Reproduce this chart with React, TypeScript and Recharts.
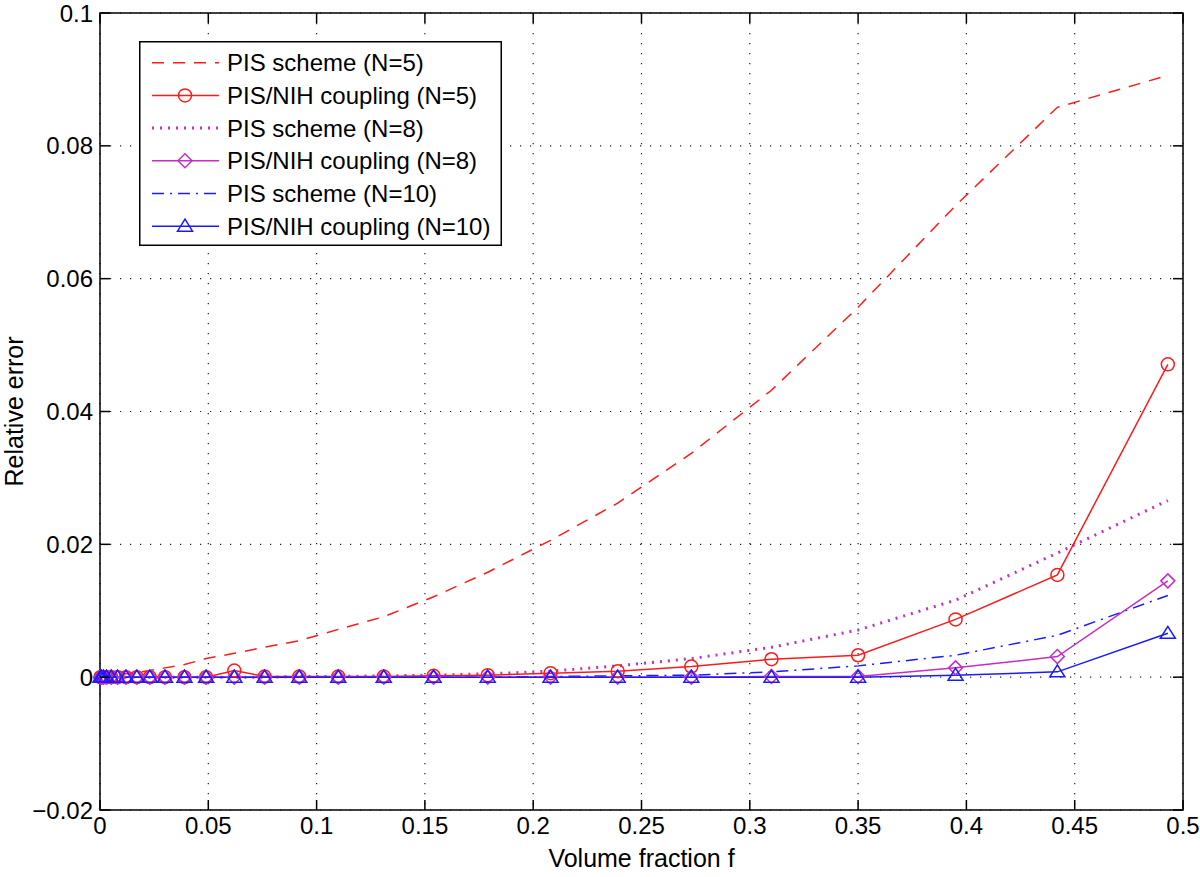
import { LineChart, Line, XAxis, YAxis, CartesianGrid, Legend, ReferenceArea } from 'recharts';

const FONT = '"Liberation Sans", Arial, Helvetica, sans-serif';
const RED = '#ff1a1a';
const MAGENTA = '#c42ec4';
const BLUE = '#1a1aff';

// volume fraction f (x positions of the computed points)
const fraction = [
  0.0002, 0.0007, 0.0016, 0.003, 0.0052, 0.0081, 0.012, 0.017, 0.023, 0.03, 0.039, 0.049, 0.062, 0.076,
  0.092, 0.11, 0.131, 0.154, 0.179, 0.208, 0.239, 0.273, 0.31, 0.35, 0.395, 0.442, 0.493,
];

const pisN5 = [
  0, 0, 0, 0.0001, 0.0002, 0.0003, 0.0005, 0.0007, 0.001, 0.0014, 0.0019, 0.0028, 0.0036, 0.0045,
  0.0055, 0.0072, 0.0091, 0.0121, 0.0158, 0.0206, 0.0262, 0.0337, 0.0432, 0.0557, 0.071, 0.0858, 0.0906,
];
const nihN5 = [
  0, 0, 0, 0, 0, 0, 0, 0, 0, 0, 0, 0, 0.001, 0.0001,
  0.0001, 0.0001, 0.0001, 0.0002, 0.0003, 0.0006, 0.0009, 0.0016, 0.0027, 0.0033, 0.0087, 0.0154, 0.0471,
];
const pisN8 = [
  0, 0, 0, 0, 0, 0, 0, 0, 0, 0, 0, 0, 0, 0,
  0.0001, 0.0001, 0.0002, 0.0003, 0.0005, 0.0009, 0.0017, 0.0028, 0.0045, 0.0071, 0.0116, 0.0187, 0.0266,
];
const nihN8 = [
  0, 0, 0, 0, 0, 0, 0, 0, 0, 0, 0, 0, 0, 0,
  0, 0, 0, 0, 0, 0, 0, 0, 0.0001, 0.0001, 0.0014, 0.0031, 0.0145,
];
const pisN10 = [
  0, 0, 0, 0, 0, 0, 0, 0, 0, 0, 0, 0, 0, 0,
  0, 0, 0, 0, 0, 0.0001, 0.0002, 0.0003, 0.0008, 0.0017, 0.0033, 0.0063, 0.0123,
];
const nihN10 = [
  0, 0, 0, 0, 0, 0, 0, 0, 0, 0, 0, 0, 0, 0,
  0, 0, 0, 0, 0, 0, 0, 0, 0, 0, 0.0003, 0.0008, 0.0066,
];

const xTicks = [0, 0.05, 0.1, 0.15, 0.2, 0.25, 0.3, 0.35, 0.4, 0.45, 0.5];
const yTicks = [-0.02, 0, 0.02, 0.04, 0.06, 0.08, 0.1];

const data = fraction.map((f, i) => ({
  f,
  pis5: pisN5[i],
  nih5: nihN5[i],
  pis8: pisN8[i],
  nih8: nihN8[i],
  pis10: pisN10[i],
  nih10: nihN10[i],
}));

// plot box (matches chart margins + axis sizes below)
const W = 1200;
const H = 877;
const TOP = 13;
const RIGHT_M = 17;
const Y_W = 100;
const X_H = 67;
const BOX_L = Y_W;
const BOX_R = W - RIGHT_M;
const BOX_T = TOP;
const BOX_B = H - X_H;
const TICK = 10;
const GAP = 7;

type Shape = 'circle' | 'diamond' | 'triangle';

function Marker({ cx, cy, color, shape }: { cx: number; cy: number; color: string; shape: Shape }) {
  if (cx == null || cy == null) return null;
  if (shape === 'circle') {
    return <circle cx={cx} cy={cy} r={6.5} fill="none" stroke={color} strokeWidth={1.5} />;
  }
  if (shape === 'diamond') {
    const d = 7;
    return (
      <polygon
        points={`${cx},${cy - d} ${cx + d},${cy} ${cx},${cy + d} ${cx - d},${cy}`}
        fill="none"
        stroke={color}
        strokeWidth={1.5}
      />
    );
  }
  return (
    <polygon
      points={`${cx},${cy - 7} ${cx + 7.5},${cy + 5} ${cx - 7.5},${cy + 5}`}
      fill="none"
      stroke={color}
      strokeWidth={1.5}
    />
  );
}

const dotOf = (color: string, shape: Shape) => (p: any) =>
  <Marker key={`m-${p.index}`} cx={p.cx} cy={p.cy} color={color} shape={shape} />;

const legendRows = [
  { label: 'PIS scheme (N=5)', color: RED, dash: '12 9', width: 1.5, shape: null },
  { label: 'PIS/NIH coupling (N=5)', color: RED, dash: undefined, width: 1.5, shape: 'circle' },
  { label: 'PIS scheme (N=8)', color: MAGENTA, dash: '2 6', width: 3, shape: null },
  { label: 'PIS/NIH coupling (N=8)', color: MAGENTA, dash: undefined, width: 1.5, shape: 'diamond' },
  { label: 'PIS scheme (N=10)', color: BLUE, dash: '12 6 2 6', width: 1.5, shape: null },
  { label: 'PIS/NIH coupling (N=10)', color: BLUE, dash: undefined, width: 1.5, shape: 'triangle' },
];

function LegendBox() {
  return (
    <svg width={363} height={205} style={{ display: 'block' }}>
      <rect x={0.75} y={0.75} width={361.5} height={203.5} fill="#fff" stroke="#000" strokeWidth={1.5} />
      {legendRows.map((r, i) => {
        const cy = 21.7 + i * 32.7;
        return (
          <g key={r.label}>
            <line x1={13} x2={80} y1={cy} y2={cy} stroke={r.color} strokeWidth={r.width} strokeDasharray={r.dash} />
            {r.shape && <Marker cx={46} cy={cy} color={r.color} shape={r.shape as Shape} />}
            <text x={88} y={cy + 8.5} fontSize={24} fontFamily={FONT} fill="#000">
              {r.label}
            </text>
          </g>
        );
      })}
    </svg>
  );
}

const fmt = (v: number) => String(v).replace('-', '\u2212');

// x tick: label below, plus inward tick marks on bottom and top edges
function XTick(props: any) {
  const { x, y, payload } = props;
  return (
    <g>
      <line x1={x} x2={x} y1={BOX_B} y2={BOX_B - TICK} stroke="#000" strokeWidth={1.5} />
      <line x1={x} x2={x} y1={BOX_T} y2={BOX_T + TICK} stroke="#000" strokeWidth={1.5} />
      <text x={x} y={y} dy="0.71em" textAnchor="middle" fontSize={24} fontFamily={FONT} fill="#000">
        {fmt(payload.value)}
      </text>
    </g>
  );
}

// y tick: label left, plus inward tick marks on left and right edges
function YTick(props: any) {
  const { x, y, payload } = props;
  return (
    <g>
      <line x1={BOX_L} x2={BOX_L + TICK} y1={y} y2={y} stroke="#000" strokeWidth={1.5} />
      <line x1={BOX_R} x2={BOX_R - TICK} y1={y} y2={y} stroke="#000" strokeWidth={1.5} />
      <text x={x} y={y} dy="0.355em" textAnchor="end" fontSize={24} fontFamily={FONT} fill="#000">
        {fmt(payload.value)}
      </text>
    </g>
  );
}

export default function App() {
  return (
    <div style={{ position: 'absolute', left: 0, top: 0, width: W, height: H, background: '#fff' }}>
      <LineChart
        width={W}
        height={H}
        data={data}
        margin={{ top: TOP, right: RIGHT_M, left: 0, bottom: 0 }}
        style={{ fontFamily: FONT }}
      >
        <CartesianGrid stroke="#222" strokeWidth={1.2} strokeDasharray="1.2 8.8" />
        <XAxis
          dataKey="f"
          type="number"
          domain={[0, 0.5]}
          ticks={xTicks}
          height={X_H}
          tickLine={false}
          tickSize={0}
          tickMargin={GAP}
          tick={<XTick />}
          axisLine={false}
          label={{ value: 'Volume fraction f', position: 'insideBottom', offset: 10, fontSize: 25, fill: '#000', fontFamily: FONT }}
        />
        <YAxis
          type="number"
          domain={[-0.02, 0.1]}
          ticks={yTicks}
          width={Y_W}
          tickLine={false}
          tickSize={0}
          tickMargin={GAP}
          tick={<YTick />}
          axisLine={false}
          label={{
            value: 'Relative error',
            angle: -90,
            position: 'insideLeft',
            offset: 14,
            fontSize: 25,
            fill: '#000',
            fontFamily: FONT,
            style: { textAnchor: 'middle' },
          }}
        />
        <ReferenceArea x1={0} x2={0.5} y1={-0.02} y2={0.1} fill="none" stroke="#000" strokeWidth={1.5} />
        <Line dataKey="pis5" stroke={RED} strokeWidth={1.5} strokeDasharray="12 9" dot={false} isAnimationActive={false} />
        <Line dataKey="pis8" stroke={MAGENTA} strokeWidth={3} strokeDasharray="2 6" dot={false} isAnimationActive={false} />
        <Line dataKey="pis10" stroke={BLUE} strokeWidth={1.5} strokeDasharray="12 6 2 6" dot={false} isAnimationActive={false} />
        <Line dataKey="nih5" stroke={RED} strokeWidth={1.5} dot={dotOf(RED, 'circle')} isAnimationActive={false} />
        <Line dataKey="nih8" stroke={MAGENTA} strokeWidth={1.5} dot={dotOf(MAGENTA, 'diamond')} isAnimationActive={false} />
        <Line dataKey="nih10" stroke={BLUE} strokeWidth={1.5} dot={dotOf(BLUE, 'triangle')} isAnimationActive={false} />
        <Legend
          layout="vertical"
          align="center"
          verticalAlign="middle"
          content={() => <LegendBox />}
          wrapperStyle={{ left: 139, top: 41, width: 363, height: 205 }}
        />
      </LineChart>
    </div>
  );
}
